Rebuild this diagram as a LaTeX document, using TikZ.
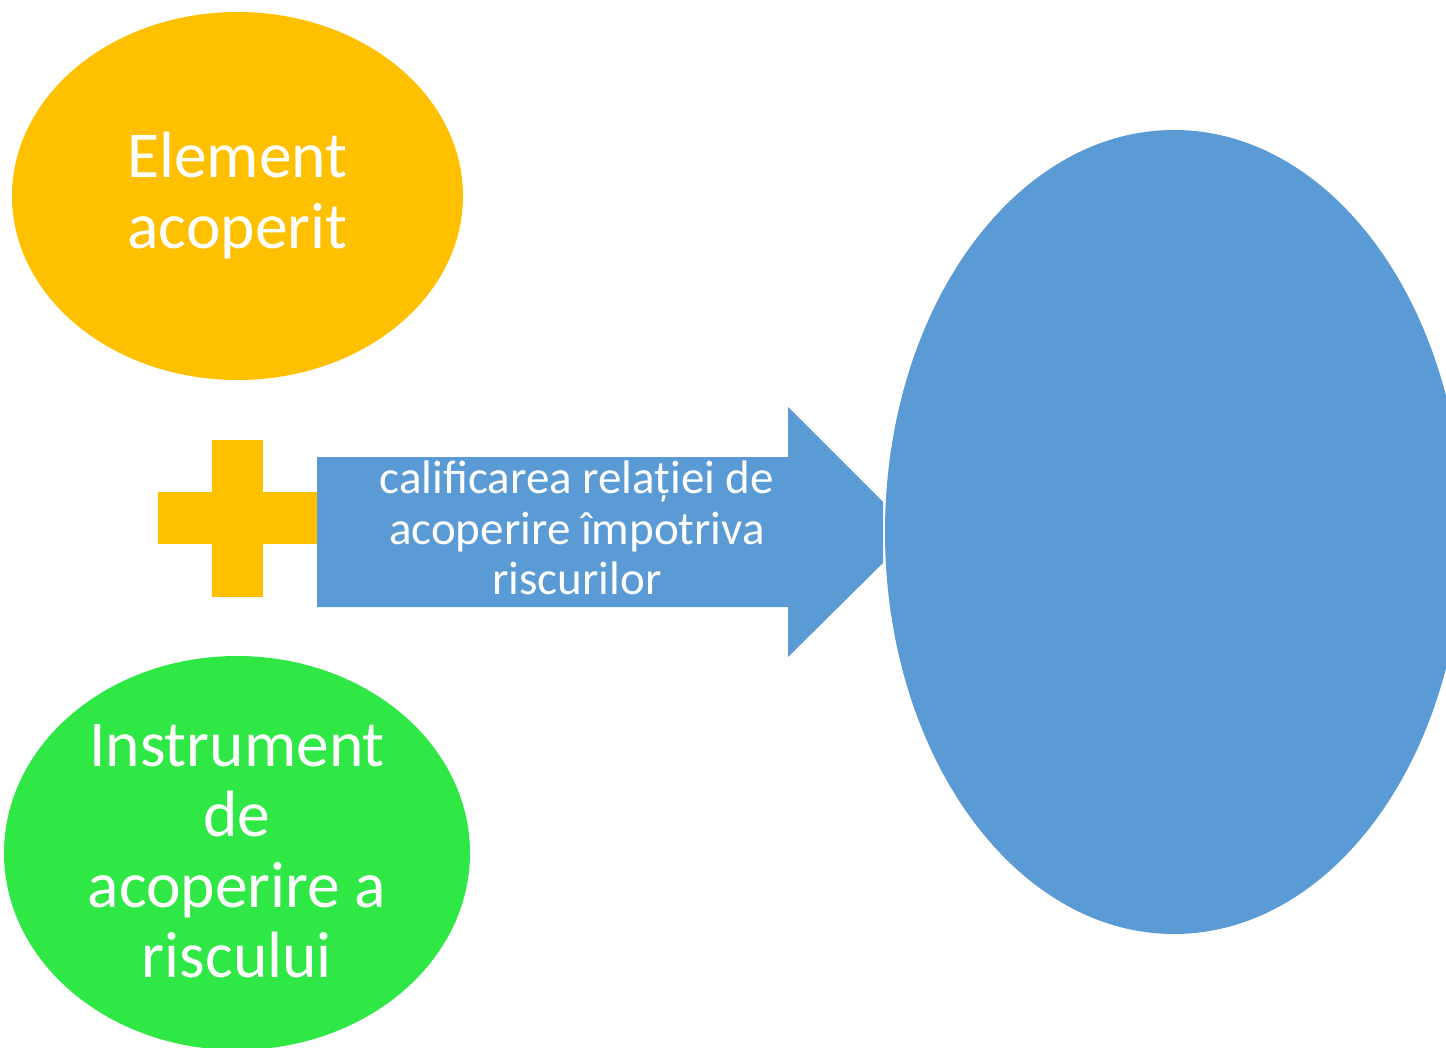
\documentclass[tikz,border=0pt]{standalone}
\usepackage{fontspec}
\setmainfont{Carlito}
\usetikzlibrary{shapes.geometric}
\definecolor{orng}{HTML}{FFC000}
\definecolor{grn}{HTML}{2FE846}
\definecolor{blu}{HTML}{5B9BD5}
\begin{document}
\begin{tikzpicture}[x=1pt,y=-1pt,
  blob/.style={ellipse,inner sep=0pt,outer sep=0pt},
  big/.style={text=white,inner sep=0pt,anchor=base,font=\fontsize{65.5}{71}\selectfont},
  small/.style={text=white,inner sep=0pt,anchor=base,font=\fontsize{47}{50}\selectfont}]
\useasboundingbox (0,0) rectangle (1446,1048);
\clip (0,0) rectangle (1446,1048);
% ellipses
\node[blob,fill=orng,minimum width=451pt,minimum height=368pt] (elem) at (237.5,196) {};
\node[blob,fill=grn,minimum width=466pt,minimum height=394pt] (instr) at (237,853) {};
\node[blob,fill=blu,minimum width=578pt,minimum height=804pt] (res) at (1174,532) {};
% plus sign
\fill[orng] (212,440) rectangle (263,597);
\fill[orng] (158,492) rectangle (317,544);
% block arrow
\fill[blu] (317,457) -- (788,457) -- (788,407) -- (883,502) -- (883,563) -- (788,657) -- (788,607) -- (317,607) -- cycle;
% texts
\node[big] (t1) at (237.5,178) {Element};
\node[big] (t2) at (237.5,249) {acoperit};
\node[big] (t3) at (237,766) {Instrument};
\node[big] (t4) at (237,836) {de};
\node[big] (t5) at (237,907) {acoperire a};
\node[big] (t6) at (237,977) {riscului};
\node[small] (a1) at (577,493) {calificarea relației de};
\node[small] (a2) at (577,544) {acoperire împotriva};
\node[small] (a3) at (577,594) {riscurilor};
\end{tikzpicture}
\end{document}
